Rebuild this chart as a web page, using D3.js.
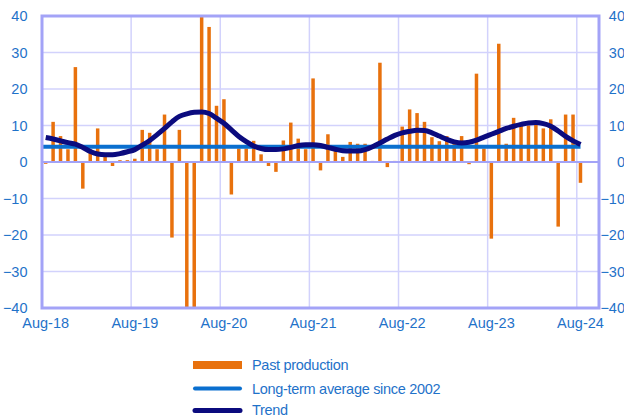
<!DOCTYPE html>
<html>
<head>
<meta charset="utf-8">
<script src="https://cdn.jsdelivr.net/npm/d3@7"></script>
<style>
  body { margin: 0; background: #fff; }
  text { font-family: "Liberation Sans", Arial, sans-serif; }
</style>
</head>
<body>
<svg id="chart" width="624" height="418"></svg>
<script>
// Monthly slots on the axis, Aug-18 .. Oct-24
const months = d3.timeMonth.range(new Date(2018, 7, 1), new Date(2024, 10, 1));

// Past production, Aug-18 .. Aug-24
const production = [
  -0.5, 11, 7.1, 3.5, 26, -7.3, 3.5, 9.2, 1.8, -1.1, 0.5, 0.5,
  0.9, 8.8, 8.0, 3.5, 13.0, -20.7, 8.8, -45, -44, 42, 37, 15.4,
  17.2, -8.9, 3.7, 3.7, 5.8, 2.1, -1.1, -2.7, 5.9, 10.8, 6.4, 3.5,
  22.9, -2.3, 7.6, 3.0, 1.4, 5.5, 5.0, 5.0, 0.3, 27.2, -1.4, 0.3,
  9.7, 14.4, 13.4, 11.0, 6.8, 5.7, 7.1, 5.9, 7.1, -0.6, 24.2, 3.7,
  -21.0, 32.4, 5.0, 12.1, 9.9, 10.0, 10.2, 9.2, 11.7, -17.7, 13.0, 13.0,
  -5.7
];

// Trend, same months
const trend = [
  6.7, 6.3, 5.8, 5.3, 4.9, 4.0, 2.9, 2.2, 2.0, 2.0, 2.3, 2.8,
  3.4, 4.6, 5.9, 7.5, 9.2, 11.0, 12.5, 13.2, 13.6, 13.7, 13.3, 12.0,
  10.6, 8.8, 7.0, 5.6, 4.4, 3.7, 3.4, 3.4, 3.6, 4.0, 4.5, 4.7,
  4.7, 4.5, 4.0, 3.5, 3.1, 3.0, 3.0, 3.4, 4.2, 5.2, 6.3, 7.3,
  8.0, 8.4, 8.7, 8.6, 8.0, 7.1, 6.2, 5.5, 5.2, 5.4, 6.0, 6.8,
  7.6, 8.4, 9.2, 9.8, 10.3, 10.7, 10.8, 10.5, 9.8, 8.5, 7.0, 5.8,
  4.8
];

const longTermAvg = 4.2;
const yTicks = [-40, -30, -20, -10, 0, 10, 20, 30, 40];
const legendItems = ["Past production", "Long-term average since 2002", "Trend"];

const svg = d3.select('#chart');
const labelColor = '#1f72c9';
const frameColor = '#a3a3f7';
const gridColor = '#d2d2fc';

const pLeft = 42, pRight = 599, pTop = 16, pBottom = 308;

const x = d3.scaleBand().domain(months).range([pLeft, pRight]).paddingInner(0.53).paddingOuter(0.26);
const xStep = x.step();
const xStart = d => pLeft + months.findIndex(m => +m === +d) * xStep;
const xMid = d => xStart(d) + xStep / 2;
const y = d3.scaleLinear().domain([-40, 40]).range([pBottom, pTop]);

const dataMonths = months.slice(0, production.length);
const augusts = months.filter(m => m.getMonth() === 7);
const fmt = d3.timeFormat('%b-%y');

// Grid
const grid = svg.append('g');
grid.selectAll('line.h').data(yTicks).enter().append('line')
  .attr('x1', pLeft).attr('x2', pRight)
  .attr('y1', d => y(d)).attr('y2', d => y(d))
  .attr('stroke', gridColor).attr('stroke-width', 1.5);
grid.selectAll('line.v').data(augusts).enter().append('line')
  .attr('x1', d => xStart(d)).attr('x2', d => xStart(d))
  .attr('y1', pTop).attr('y2', pBottom)
  .attr('stroke', gridColor).attr('stroke-width', 1.5);

// Clip for the plot area
svg.append('clipPath').attr('id', 'plot')
  .append('rect').attr('x', pLeft).attr('y', pTop).attr('width', pRight - pLeft).attr('height', pBottom - pTop);

// Bars
svg.append('g').attr('clip-path', 'url(#plot)')
  .selectAll('rect').data(dataMonths).enter().append('rect')
  .attr('x', d => x(d))
  .attr('width', x.bandwidth())
  .attr('y', (d, i) => y(Math.max(0, production[i])))
  .attr('height', (d, i) => Math.abs(y(production[i]) - y(0)))
  .attr('fill', '#e8710d');

// Zero line
svg.append('line')
  .attr('x1', pLeft).attr('x2', pRight).attr('y1', y(0)).attr('y2', y(0))
  .attr('stroke', frameColor).attr('stroke-width', 2);

// Long-term average
svg.append('line')
  .attr('x1', xMid(dataMonths[0]) - 3).attr('x2', xMid(dataMonths[dataMonths.length - 1]))
  .attr('y1', y(longTermAvg)).attr('y2', y(longTermAvg))
  .attr('stroke', '#0a6fcf').attr('stroke-width', 4);

// Trend
const line = d3.line()
  .x(d => xMid(d))
  .y((d, i) => y(trend[i]))
  .curve(d3.curveMonotoneX);
svg.append('path')
  .datum(dataMonths)
  .attr('d', line)
  .attr('fill', 'none')
  .attr('stroke', '#0b0b7e')
  .attr('stroke-width', 5)
  .attr('stroke-linejoin', 'round');

// Frame
svg.append('rect')
  .attr('x', pLeft).attr('y', pTop).attr('width', pRight - pLeft).attr('height', pBottom - pTop)
  .attr('fill', 'none').attr('stroke', frameColor).attr('stroke-width', 3);

// Axes
const yLeft = svg.append('g').attr('transform', `translate(${pLeft},0)`)
  .call(d3.axisLeft(y).tickValues(yTicks).tickSize(0).tickPadding(14.5));
const yRight = svg.append('g').attr('transform', `translate(${pRight},0)`)
  .call(d3.axisRight(y).tickValues(yTicks).tickSize(0).tickPadding(4));
yRight.selectAll('text').attr('text-anchor', 'end').attr('dx', 22);
const xAxis = svg.append('g').attr('transform', `translate(0,${pBottom})`)
  .call(d3.axisBottom(x).tickValues(augusts).tickFormat(fmt).tickSize(0).tickPadding(10));

[yLeft, yRight, xAxis].forEach(a => {
  a.select('.domain').remove();
  a.selectAll('text')
    .attr('fill', labelColor)
    .style('font-size', '14.5px')
    .style('font-family', '"Liberation Sans", Arial, sans-serif');
});

// Legend
const legend = svg.append('g');
const ly = [365, 388.5, 409.5];
legend.append('rect').attr('x', 193).attr('y', ly[0] - 4).attr('width', 49).attr('height', 8).attr('fill', '#e8710d');
legend.append('line').attr('x1', 195).attr('x2', 240).attr('y1', ly[1]).attr('y2', ly[1])
  .attr('stroke', '#0a6fcf').attr('stroke-width', 4).attr('stroke-linecap', 'round');
legend.append('line').attr('x1', 195).attr('x2', 240).attr('y1', ly[2] + 1).attr('y2', ly[2] + 1)
  .attr('stroke', '#0b0b7e').attr('stroke-width', 5).attr('stroke-linecap', 'round');
legend.selectAll('text').data(legendItems).enter().append('text')
  .attr('x', 252).attr('y', (d, i) => ly[i])
  .attr('dy', '0.35em')
  .attr('fill', labelColor)
  .style('font-size', '14.5px')
  .style('letter-spacing', '-0.3px')
  .text(d => d);
</script>
</body>
</html>
